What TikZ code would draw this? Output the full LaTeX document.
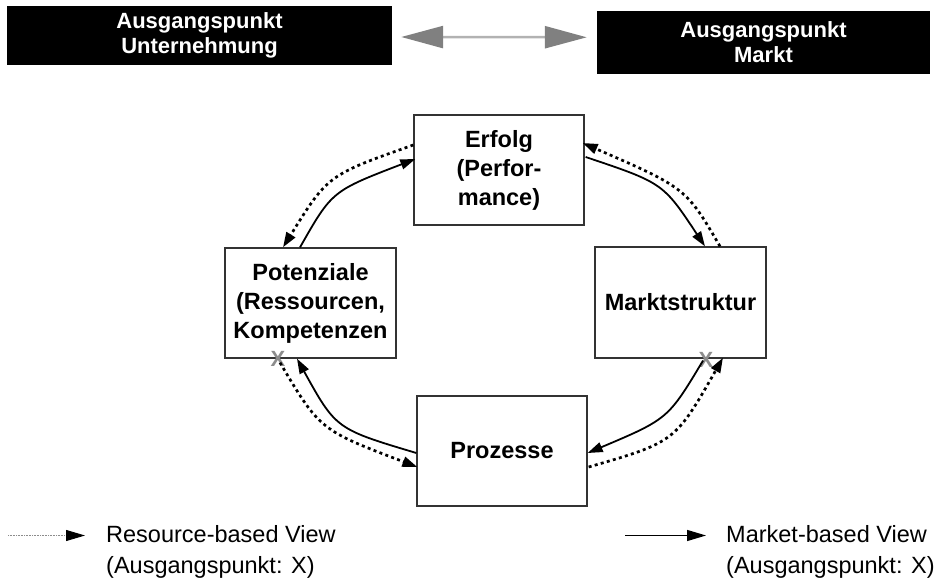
\documentclass[tikz,border=0pt]{standalone}
\usepackage{fontspec}
\setmainfont{Liberation Sans}
\usetikzlibrary{arrows.meta,calc}
\begin{document}
\begin{tikzpicture}[x=1pt,y=-1pt,
  boxnode/.style={draw=black!80,line width=1.3pt,minimum width=170pt,minimum height=110pt,
    inner sep=0pt,align=center,font=\bfseries\fontsize{23.5}{29}\selectfont},
  topbox/.style={fill=black,text=white,inner sep=0pt,align=center,
    font=\bfseries\fontsize{22}{25}\selectfont},
  mbv/.style={line width=1.8pt,-{Triangle[length=15pt,width=10pt]}},
  rbv/.style={line width=2.7pt,dash pattern=on 3pt off 3.3pt,-{Triangle[length=15pt,width=10pt]}},
  toparr/.style={line width=2.5pt,draw=black!30,
    {Triangle[length=42pt,width=22pt,color=black!50]}-{Triangle[length=42pt,width=22pt,color=black!50]}},
  xmark/.style={text=black!45,inner sep=0pt,font=\bfseries\fontsize{22}{22}\selectfont},
  legtext/.style={inner sep=0pt,align=left,anchor=north west,font=\fontsize{23.5}{31}\selectfont},
  legdot/.style={line width=0.9pt,draw=black!45,dash pattern=on 1pt off 0.6pt,-{Triangle[length=19pt,width=11pt,color=black]}},
  legsolid/.style={line width=1.3pt,-{Triangle[length=19pt,width=11pt]}}
]
\useasboundingbox (0,0) rectangle (935,580);

% top boxes
\node[topbox,minimum width=385pt,minimum height=59pt] (lt) at (199.5,35.5) {Ausgangspunkt\\Unternehmung};
\node[topbox,minimum width=333pt,minimum height=63pt] (rt) at (763.5,42.3) {Ausgangspunkt\\Markt};
\draw[toparr] ($(lt.east)+(9,1.5)$) -- ($(rt.west)+(-10,-5)$);

% boxes
\node[boxnode] (erf) at (499,170) {Erfolg\\(Perfor-\\mance)};
\node[boxnode,minimum width=171pt] (pot) at (310.5,303) {Potenziale\\(Ressourcen,\\Kompetenzen};
\node[boxnode,minimum width=171pt,minimum height=111pt] (mkt) at (680.5,302.5) {Marktstruktur};
\node[boxnode] (pro) at (502,451) {Prozesse};

% X marks
\node[xmark] (x1) at (278,359) {X};
\node[xmark] (x2) at (706,360) {X};

% market-based (solid)
\draw[mbv] ($(pot.north)+(-10.5,0)$) .. controls (332,191) .. ($(erf.west)+(2,-11)$);
\draw[mbv] ($(erf.east)+(1,-13)$) .. controls (663,183) .. ($(mkt.north)+(24.5,0)$);
\draw[mbv] ($(mkt.south)+(22.5,2)$) .. controls (668,419) .. ($(pro.east)+(0,2)$);
\draw[mbv] ($(pro.west)+(0,2)$) .. controls (336,429) .. ($(pot.south)+(-13.5,0)$);

% resource-based (dotted)
\draw[rbv] ($(erf.west)+(0,-25)$) .. controls (328,175) .. ($(pot.north)+(-27.5,0)$);
\draw[rbv] ($(mkt.north)+(39.5,0)$) .. controls (686,188) .. ($(erf.east)+(-2,-27)$);
\draw[rbv] ($(pro.east)+(1,16)$) .. controls (675,442) .. ($(mkt.south)+(42.5,-1)$);
\draw[rbv] ($(pot.south)+(-30.5,4)$) .. controls (320,430) .. ($(pro.west)+(1,16)$);

% legend
\node[legtext] (rbvtxt) at (106,525.5) {Resource-based View\\(Ausgangspunkt: X)};
\node[legtext] (mbvtxt) at (726,525.5) {Market-based View\\(Ausgangspunkt: X)};
\coordinate (l1) at (8,535.5);
\coordinate (l2) at (625,535.5);
\draw[legdot] (l1) -- ($(rbvtxt.north west)+(-21,10)$);
\draw[legsolid] (l2) -- ($(mbvtxt.north west)+(-20,10)$);
\end{tikzpicture}
\end{document}
